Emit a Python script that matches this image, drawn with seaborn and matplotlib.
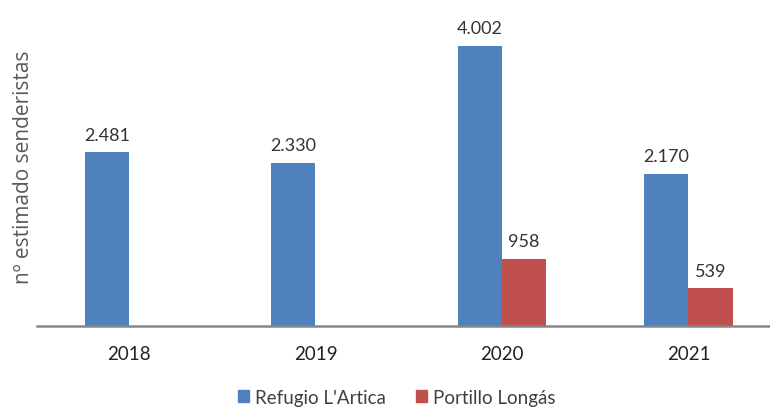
import pandas as pd
import matplotlib.pyplot as plt
import seaborn as sns

years = ["2018", "2019", "2020", "2021"]
refugio = [2481, 2330, 4002, 2170]
portillo = [None, None, 958, 539]
series = ["Refugio L'Artica", "Portillo Longás"]
colors = ["#4F81BD", "#C0504D"]

df = pd.DataFrame({
    "year": years * 2,
    "value": refugio + portillo,
    "site": [series[0]] * 4 + [series[1]] * 4,
})

sns.set_style("white")
plt.rcParams["font.family"] = ["Lato", "DejaVu Sans"]

fig = plt.figure(figsize=(7.7, 4.1), dpi=100)
ax = fig.add_axes([0.048, 0.2024, 0.952, 0.7976])

sns.barplot(data=df, x="year", y="value", hue="site", hue_order=series,
            palette=colors, width=0.472, saturation=1, linewidth=0,
            ax=ax, legend=False)

for cont in ax.containers:
    ax.bar_label(cont, fmt=lambda v: f"{v:,.0f}".replace(",", "."),
                 padding=7, fontsize=13, color="#333333")

ax.set_xlim(-0.493, 3.437)
ax.set_ylim(0, 4670)
ax.set_yticks([])
ax.set_xlabel("")
ax.set_ylabel("nº estimado senderistas", fontsize=15, color="#595959",
              family=["Open Sans", "DejaVu Sans"])
ax.yaxis.set_label_coords(-0.004, 0.49)
for s in ["top", "right", "left"]:
    ax.spines[s].set_visible(False)
ax.spines["bottom"].set_color("#868686")
ax.spines["bottom"].set_linewidth(1.8)
ax.tick_params(axis="x", length=0, pad=14, labelsize=13.5, labelcolor="#222222")

handles = [plt.Rectangle((0, 0), 1, 1, color=c) for c in colors]
fig.legend(handles, series, loc="center", bbox_to_anchor=(0.515, 0.028), ncol=2,
           frameon=False, fontsize=13.5, handlelength=0.6, handleheight=0.6,
           handletextpad=0.3, columnspacing=1.6, labelcolor="#404040")

fig.savefig("out.png", dpi=100)
